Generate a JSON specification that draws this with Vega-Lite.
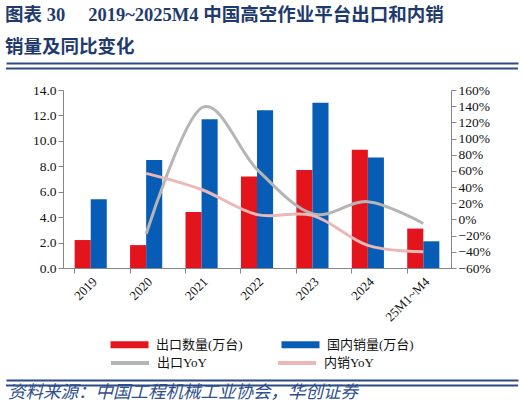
{
  "$schema": "https://vega.github.io/schema/vega-lite/v6.json",
  "background": "white",
  "padding": 5,
  "spacing": 9,
  "config": {
    "view": {"stroke": null},
    "font": "Liberation Serif, Noto Sans CJK SC",
    "axis": {"grid": false, "labelFont": "Liberation Serif, Noto Sans CJK SC", "labelColor": "#111111", "domainColor": "#868686", "tickColor": "#868686", "tickSize": 5},
    "legend": {"labelFont": "Liberation Serif, Noto Sans CJK SC", "labelColor": "#111111"}
  },
  "datasets": {
    "hline": [{"a": 0, "b": 1}],
    "bars": [
      {"cat": "2019", "series": "出口数量(万台)", "value": 2.2},
      {"cat": "2020", "series": "出口数量(万台)", "value": 1.8},
      {"cat": "2021", "series": "出口数量(万台)", "value": 4.4},
      {"cat": "2022", "series": "出口数量(万台)", "value": 7.2},
      {"cat": "2023", "series": "出口数量(万台)", "value": 7.7},
      {"cat": "2024", "series": "出口数量(万台)", "value": 9.3},
      {"cat": "25M1~M4", "series": "出口数量(万台)", "value": 3.1},
      {"cat": "2019", "series": "国内销量(万台)", "value": 5.4},
      {"cat": "2020", "series": "国内销量(万台)", "value": 8.5},
      {"cat": "2021", "series": "国内销量(万台)", "value": 11.7},
      {"cat": "2022", "series": "国内销量(万台)", "value": 12.4},
      {"cat": "2023", "series": "国内销量(万台)", "value": 13.0},
      {"cat": "2024", "series": "国内销量(万台)", "value": 8.7},
      {"cat": "25M1~M4", "series": "国内销量(万台)", "value": 2.1}
    ],
    "yoy": [
      {"cat": "2020", "series": "出口YoY", "yoy": -0.18},
      {"cat": "2021", "series": "出口YoY", "yoy": 1.38},
      {"cat": "2022", "series": "出口YoY", "yoy": 0.62},
      {"cat": "2023", "series": "出口YoY", "yoy": 0.07},
      {"cat": "2024", "series": "出口YoY", "yoy": 0.22},
      {"cat": "25M1~M4", "series": "出口YoY", "yoy": -0.05},
      {"cat": "2020", "series": "内销YoY", "yoy": 0.57},
      {"cat": "2021", "series": "内销YoY", "yoy": 0.37},
      {"cat": "2022", "series": "内销YoY", "yoy": 0.06},
      {"cat": "2023", "series": "内销YoY", "yoy": 0.05},
      {"cat": "2024", "series": "内销YoY", "yoy": -0.32},
      {"cat": "25M1~M4", "series": "内销YoY", "yoy": -0.40}
    ]
  },
  "vconcat": [
    {
      "width": 512,
      "height": 11,
      "title": {
        "text": ["图表 30\u3000 2019~2025M4 中国高空作业平台出口和内销", "销量及同比变化"],
        "anchor": "start",
        "fontSize": 18.5,
        "fontWeight": "bold",
        "color": "#1F3B6E",
        "lineHeight": 32,
        "offset": 7
      },
      "data": {"name": "hline"},
      "mark": {"type": "rule", "color": "#2E4B87", "strokeWidth": 2},
      "encoding": {
        "x": {"field": "a", "type": "quantitative", "scale": {"domain": [0, 1]}, "axis": {"orient": "top", "domain": true, "domainColor": "#2E4B87", "domainWidth": 2, "ticks": false, "labels": false, "title": null}},
        "x2": {"field": "b"}
      }
    },
    {
      "spacing": 25,
      "hconcat": [
        {
          "width": 1,
          "height": 178,
          "mark": "rule",
          "encoding": {}
        },
        {
          "width": 388,
          "height": 178,
          "layer": [
            {
              "data": {"name": "bars"},
              "mark": {"type": "bar"},
              "encoding": {
                "x": {
                  "field": "cat",
                  "type": "nominal",
                  "sort": ["2019", "2020", "2021", "2022", "2023", "2024", "25M1~M4"],
                  "scale": {"paddingInner": 0.42, "paddingOuter": 0.21},
                  "axis": {"title": null, "labelAngle": -45, "labelFontSize": 13, "bandPosition": 0, "labelPadding": 2}
                },
                "xOffset": {"field": "series", "sort": ["出口数量(万台)", "国内销量(万台)"], "scale": {"paddingInner": 0, "paddingOuter": 0}},
                "y": {
                  "field": "value",
                  "type": "quantitative",
                  "scale": {"domain": [0, 14], "nice": false},
                  "axis": {"orient": "left", "values": [0, 2, 4, 6, 8, 10, 12, 14], "format": ".1f", "labelFontSize": 13.5, "title": null}
                },
                "color": {
                  "field": "series",
                  "type": "nominal",
                  "scale": {"domain": ["出口数量(万台)", "国内销量(万台)"], "range": ["#E3141C", "#075DB6"]},
                  "legend": {"orient": "none", "legendX": 60, "legendY": 248, "direction": "horizontal", "columns": 2, "title": null, "symbolType": "M-3.8,-0.68H3.8V0.68H-3.8Z", "symbolSize": 100, "symbolStrokeWidth": 0, "labelFontSize": 13, "labelOffset": 20, "columnPadding": 38}
                }
              }
            },
            {
              "data": {"name": "yoy"},
              "mark": {"type": "line", "interpolate": "cardinal", "strokeWidth": 3},
              "encoding": {
                "x": {"field": "cat", "type": "nominal", "sort": ["2019", "2020", "2021", "2022", "2023", "2024", "25M1~M4"]},
                "y": {
                  "field": "yoy",
                  "type": "quantitative",
                  "scale": {"domain": [-0.6, 1.6], "nice": false},
                  "axis": {"orient": "right", "values": [-0.6, -0.4, -0.2, 0, 0.2, 0.4, 0.6, 0.8, 1.0, 1.2, 1.4, 1.6], "format": ".0%", "labelFontSize": 13.5, "title": null}
                },
                "color": {
                  "field": "series",
                  "type": "nominal",
                  "scale": {"domain": ["出口YoY", "内销YoY"], "range": ["#B5B5B5", "#EBB8B8"]},
                  "legend": {"orient": "none", "legendX": 60, "legendY": 266, "direction": "horizontal", "columns": 2, "title": null, "symbolType": "M-3.8,0H3.8", "symbolSize": 100, "symbolStrokeWidth": 4, "labelFontSize": 13, "labelOffset": 20, "columnPadding": 63}
                }
              }
            }
          ],
          "resolve": {"scale": {"y": "independent", "color": "independent"}}
        }
      ]
    },
    {
      "width": 512,
      "height": 11,
      "title": {
        "text": "资料来源：中国工程机械工业协会，华创证券",
        "orient": "bottom",
        "anchor": "start",
        "fontSize": 17.5,
        "fontWeight": "normal",
        "fontStyle": "italic",
        "color": "#2F4F8F",
        "offset": -7,
        "dx": 3
      },
      "data": {"name": "hline"},
      "mark": {"type": "rule", "color": "#2E4B87", "strokeWidth": 2},
      "encoding": {
        "x": {"field": "a", "type": "quantitative", "scale": {"domain": [0, 1]}, "axis": {"orient": "top", "domain": true, "domainColor": "#2E4B87", "domainWidth": 2, "ticks": false, "labels": false, "title": null}},
        "x2": {"field": "b"}
      }
    }
  ]
}
